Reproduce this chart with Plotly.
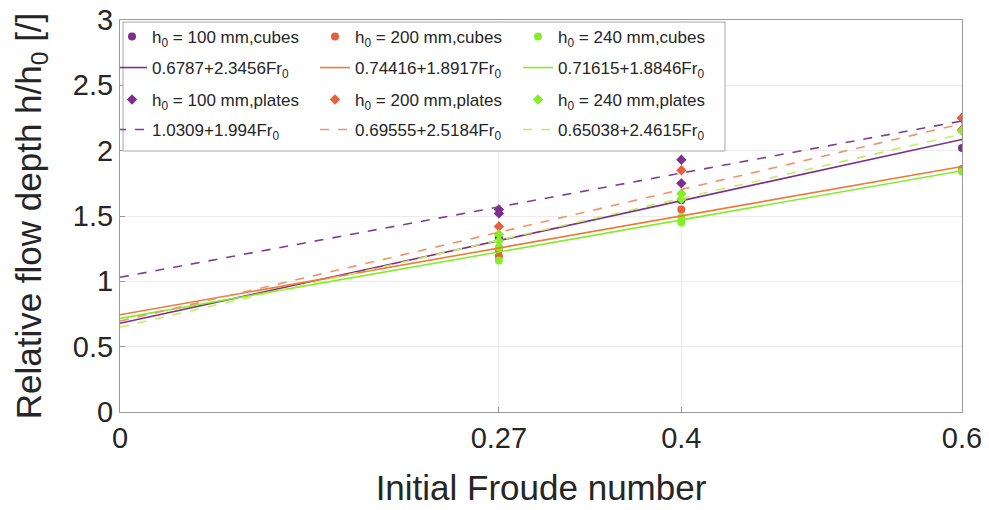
import plotly.graph_objects as go

# ---------------- data ----------------
fr_ticks = [0, 0.27, 0.4, 0.6]
y_ticks = [0, 0.5, 1, 1.5, 2, 2.5, 3]

cube_labels = ["h<sub>0</sub> = 100 mm,cubes", "h<sub>0</sub> = 200 mm,cubes", "h<sub>0</sub> = 240 mm,cubes"]
plate_labels = ["h<sub>0</sub> = 100 mm,plates", "h<sub>0</sub> = 200 mm,plates", "h<sub>0</sub> = 240 mm,plates"]

cube_x_100 = [0.27, 0.4, 0.6]
cube_y_100 = [1.33, 1.62, 2.02]
cube_x_200 = [0.27, 0.27, 0.4, 0.6]
cube_y_200 = [1.24, 1.19, 1.55, 1.86]
cube_x_240 = [0.27, 0.27, 0.4, 0.4, 0.6]
cube_y_240 = [1.26, 1.16, 1.49, 1.45, 1.84]

plate_x_100 = [0.27, 0.27, 0.4, 0.4, 0.6]
plate_y_100 = [1.55, 1.52, 1.93, 1.75, 2.25]
plate_x_200 = [0.27, 0.4, 0.6, 0.6]
plate_y_200 = [1.42, 1.85, 2.25, 2.16]
plate_x_240 = [0.27, 0.27, 0.4, 0.4, 0.6]
plate_y_240 = [1.36, 1.31, 1.67, 1.63, 2.15]

# linear fits  h/h0 = a + b*Fr0
cube_fit_a = [0.6787, 0.74416, 0.71615]
cube_fit_b = [2.3456, 1.8917, 1.8846]
plate_fit_a = [1.0309, 0.69555, 0.65038]
plate_fit_b = [1.994, 2.5184, 2.4615]
cube_fit_labels = ["0.6787+2.3456Fr<sub>0</sub>", "0.74416+1.8917Fr<sub>0</sub>", "0.71615+1.8846Fr<sub>0</sub>"]
plate_fit_labels = ["1.0309+1.994Fr<sub>0</sub>", "0.69555+2.5184Fr<sub>0</sub>", "0.65038+2.4615Fr<sub>0</sub>"]
fit_range = [0, 0.6]

# ---------------- style ----------------
marker_colors = ["#7E2F8E", "#E8603A", "#86EE26"]
line_colors = ["#7E2F8E", "#EE7B3A", "#82EE2A"]
dash_colors = ["#7E3F8E", "#EE9468", "#C2F05A"]
FONT = "Liberation Sans"

fig = go.Figure()

cube_xs = [cube_x_100, cube_x_200, cube_x_240]
cube_ys = [cube_y_100, cube_y_200, cube_y_240]
plate_xs = [plate_x_100, plate_x_200, plate_x_240]
plate_ys = [plate_y_100, plate_y_200, plate_y_240]

for i in range(3):
    fig.add_trace(go.Scatter(x=cube_xs[i], y=cube_ys[i], mode="markers", name=cube_labels[i],
                             marker=dict(symbol="circle", size=8, color=marker_colors[i]),
                             legend="legend"))
for i in range(3):
    fig.add_trace(go.Scatter(x=fit_range, y=[cube_fit_a[i] + cube_fit_b[i] * v for v in fit_range],
                             mode="lines", name=cube_fit_labels[i],
                             line=dict(color=line_colors[i], width=1.6), legend="legend2"))
for i in range(3):
    fig.add_trace(go.Scatter(x=plate_xs[i], y=plate_ys[i], mode="markers", name=plate_labels[i],
                             marker=dict(symbol="diamond", size=8, color=marker_colors[i]),
                             legend="legend3"))
for i in range(3):
    fig.add_trace(go.Scatter(x=fit_range, y=[plate_fit_a[i] + plate_fit_b[i] * v for v in fit_range],
                             mode="lines", name=plate_fit_labels[i],
                             line=dict(color=dash_colors[i], width=1.6, dash="dash"), legend="legend4"))

axis_common = dict(showline=True, mirror=True, linecolor="#9a9a9a", linewidth=1,
                   showgrid=True, gridcolor="#ececec", gridwidth=1,
                   ticks="inside", ticklen=5, tickcolor="#9a9a9a", ticklabeloverflow="allow",
                   zeroline=False, tickfont=dict(family=FONT, size=29, color="#262626"))

# page body has an 8px default margin, so the figure is laid out 8px smaller
W, H = 981, 502
ml, mr, mt, mb = 112, 27, 12, 98
PW, PH = W - ml - mr, H - mt - mb

leg_common = dict(orientation="h", xref="paper", yref="paper", xanchor="left", yanchor="middle",
                  bgcolor="rgba(0,0,0,0)", borderwidth=0, entrywidth=166, indentation=-8,
                  font=dict(family=FONT, size=17, color="#262626"), itemclick=False)
row_px = [29, 60, 92, 122]

fig.update_layout(
    width=W, height=H,
    margin=dict(l=ml, r=mr, t=mt, b=mb, autoexpand=False),
    paper_bgcolor="white", plot_bgcolor="white",
    font=dict(family=FONT, color="#262626"),
    xaxis=dict(range=[0, 0.6], tickvals=fr_ticks, ticktext=[str(v) for v in fr_ticks],
               title=dict(text="Initial Froude number", font=dict(family=FONT, size=35, color="#262626"), standoff=22),
               **axis_common),
    yaxis=dict(range=[0, 3], tickvals=y_ticks, ticktext=[f"{v:g}" for v in y_ticks],
               title=dict(text="Relative flow depth h/h<sub>0</sub> [/]", font=dict(family=FONT, size=35, color="#262626"), standoff=20),
               **axis_common),
    legend=dict(x=0, y=(H - mb - row_px[0]) / PH, **leg_common),
    legend2=dict(x=0, y=(H - mb - row_px[1]) / PH, **leg_common),
    legend3=dict(x=0, y=(H - mb - row_px[2]) / PH, **leg_common),
    legend4=dict(x=0, y=(H - mb - row_px[3]) / PH, **leg_common),
    shapes=[dict(type="rect", xref="paper", yref="paper",
                 x0=(115 - ml) / PW, x1=(717 - ml) / PW,
                 y0=(H - mb - 143) / PH, y1=(H - mb - 14) / PH,
                 fillcolor="white", line=dict(color="#a8a8a8", width=1), layer="above")],
)

fig.write_html("out.html")
